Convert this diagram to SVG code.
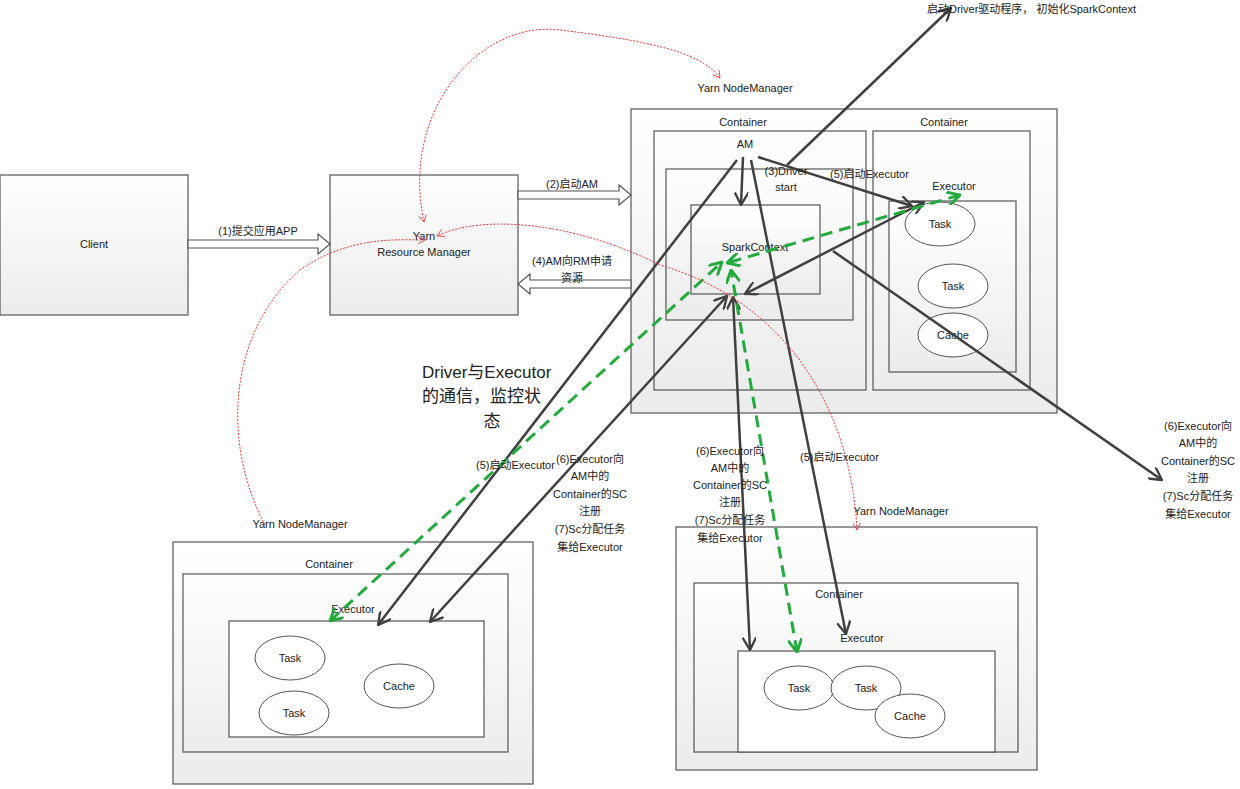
<svg xmlns="http://www.w3.org/2000/svg" width="1240" height="789" viewBox="0 0 1240 789">
<defs>
<linearGradient id="g" x1="0" y1="0" x2="0" y2="1"><stop offset="0" stop-color="#ffffff"/><stop offset="1" stop-color="#ececec"/></linearGradient>
<marker id="a" viewBox="0 0 12 12" refX="11" refY="6" markerWidth="14" markerHeight="14" orient="auto-start-reverse" markerUnits="userSpaceOnUse"><path d="M0,0 L11,6 L0,12" fill="none" stroke="#404040" stroke-width="2"/></marker>
<marker id="ga" viewBox="0 0 12 12" refX="11" refY="6" markerWidth="14" markerHeight="14" orient="auto-start-reverse" markerUnits="userSpaceOnUse"><path d="M0,0 L11,6 L0,12" fill="none" stroke="#22aa3c" stroke-width="2.5"/></marker>
<marker id="ra" viewBox="0 0 10 10" refX="9" refY="5" markerWidth="8" markerHeight="8" orient="auto-start-reverse" markerUnits="userSpaceOnUse"><path d="M0,0 L9,5 L0,10" fill="none" stroke="#ee3333" stroke-width="1"/></marker>
</defs>
<style>
.b{fill:url(#g);stroke:#555;stroke-width:1.2}
.w{fill:#fff;stroke:#555;stroke-width:1.2}
.e{fill:#fff;stroke:#555;stroke-width:1}
text{font-family:"Liberation Sans","Noto Sans CJK SC",sans-serif;font-size:11px;fill:#222}
.c{text-anchor:middle}
.k{stroke:#404040;stroke-width:2.5;fill:none;marker-end:url(#a)}
.kk{stroke:#404040;stroke-width:2.5;fill:none;marker-end:url(#a);marker-start:url(#a)}
.gd{stroke:#22aa3c;stroke-width:3;stroke-dasharray:12 7;fill:none;marker-end:url(#ga);marker-start:url(#ga)}
.rd{stroke:#ee3333;stroke-width:1;stroke-dasharray:2 1.5;fill:none}
.h{fill:#fff;stroke:#555;stroke-width:1.2}
</style>
<g id="client"><rect class="b" x="0" y="175" width="188" height="140"/><text class="c" x="94" y="248">Client</text></g>
<g id="rm"><rect class="b" x="330" y="175" width="188" height="140"/><text class="c" x="424" y="240">Yarn</text><text class="c" x="424" y="256">Resource Manager</text></g>
<g id="nm1"><rect class="b" x="631" y="109" width="426" height="304"/><text class="c" x="745" y="92">Yarn NodeManager</text>
<rect class="b" x="654" y="131" width="212" height="259"/><text class="c" x="743" y="126">Container</text>
<rect class="b" x="666" y="169" width="187" height="151"/>
<rect class="b" x="691" y="205" width="129" height="89"/><text class="c" x="755" y="251">SparkContext</text>
<text class="c" x="745" y="148">AM</text>
<rect class="b" x="873" y="131" width="157" height="259"/><text class="c" x="944" y="126">Container</text>
<text class="c" x="954" y="190">Executor</text>
<rect class="b" x="889" y="201" width="127" height="171"/>
<ellipse class="e" cx="940" cy="224" rx="35" ry="22"/><text class="c" x="940" y="228">Task</text>
<ellipse class="e" cx="953" cy="286" rx="35" ry="22"/><text class="c" x="953" y="290">Task</text>
<ellipse class="e" cx="953" cy="335" rx="35" ry="22"/><text class="c" x="953" y="339">Cache</text></g>
<g id="nm2"><rect class="b" x="173" y="542" width="360" height="242"/><text class="c" x="300" y="528">Yarn NodeManager</text>
<rect class="b" x="183" y="574" width="325" height="178"/><text class="c" x="329" y="568">Container</text>
<text class="c" x="353" y="613">Executor</text>
<rect class="w" x="229" y="621" width="255" height="116"/>
<ellipse class="e" cx="290" cy="658" rx="35" ry="22"/><text class="c" x="290" y="662">Task</text>
<ellipse class="e" cx="294" cy="713" rx="35" ry="22"/><text class="c" x="294" y="717">Task</text>
<ellipse class="e" cx="399" cy="686" rx="35" ry="22"/><text class="c" x="399" y="690">Cache</text></g>
<g id="nm3"><rect class="b" x="676" y="527" width="361" height="243"/><text class="c" x="901" y="515">Yarn NodeManager</text>
<rect class="b" x="694" y="583" width="324" height="169"/><text class="c" x="839" y="598">Container</text>
<text class="c" x="862" y="642">Executor</text>
<rect class="w" x="738" y="651" width="257" height="101"/>
<ellipse class="e" cx="799" cy="688" rx="35" ry="22"/><text class="c" x="799" y="692">Task</text>
<ellipse class="e" cx="866" cy="688" rx="35" ry="22"/><text class="c" x="866" y="692">Task</text>
<ellipse class="e" cx="910" cy="716" rx="35" ry="22"/><text class="c" x="910" y="720">Cache</text></g>
<g id="connectors">
<path class="h" d="M188,240 H318 V234 L330,244 L318,254 V248 H188 Z"/>
<path class="h" d="M518,191 H619 V185 L631,195 L619,205 V199 H518 Z"/>
<path class="h" d="M631,280 H530 V274 L518,284 L530,294 V288 H631 Z"/>
<path class="k" d="M787,165 L951,8"/>
<path class="k" d="M743,157 L741,205"/>
<path class="k" d="M758,157 L912,206"/>
<path class="k" d="M737,160 L378,625"/>
<path class="k" d="M751,160 L846,634"/>
<path class="k" d="M833,251 L1162,480"/>
<path class="kk" d="M924,202 L745,294"/>
<path class="kk" d="M430,622 L727,296"/>
<path class="kk" d="M750,650 L733,297"/>
<path class="gd" d="M960,195 L727,263"/>
<path class="gd" d="M330,621 L722,262"/>
<path class="gd" d="M797,652 L731,270"/>
<path class="rd" d="M424,222 C400,110 480,20 560,30 C640,40 700,50 720,78" marker-start="url(#ra)" marker-end="url(#ra)"/>
<path class="rd" d="M857,530 C850,400 780,300 660,265 C570,220 480,215 437,236" marker-start="url(#ra)" marker-end="url(#ra)"/>
<path class="rd" d="M265,525 C220,440 230,330 300,270 C350,235 400,240 425,240" marker-end="url(#ra)"/>
</g>
<g id="labels">
<text class="c" x="258" y="235">(1)提交应用APP</text>
<text class="c" x="572" y="188">(2)启动AM</text>
<text class="c" x="572" y="265">(4)AM向RM申请</text>
<text class="c" x="572" y="282">资源</text>
<text class="c" x="786" y="175">(3)Driver</text>
<text class="c" x="786" y="191">start</text>
<text x="830" y="178">(5)启动Executor</text>
<text x="927" y="13">启动Driver驱动程序， 初始化SparkContext</text>
<text x="422" y="378" style="font-size:17px">Driver与Executor</text>
<text x="422" y="402" style="font-size:17px">的通信，监控状</text>
<text class="c" x="492" y="427" style="font-size:17px">态</text>
<text x="476" y="469">(5)启动Executor</text>
<text class="c" x="590" y="463">(6)Executor向</text><text class="c" x="590" y="480">AM中的</text><text class="c" x="590" y="498">Container的SC</text><text class="c" x="590" y="515">注册</text><text class="c" x="590" y="533">(7)Sc分配任务</text><text class="c" x="590" y="551">集给Executor</text>
<text class="c" x="730" y="455">(6)Executor向</text><text class="c" x="730" y="472">AM中的</text><text class="c" x="730" y="489">Container的SC</text><text class="c" x="730" y="506">注册</text><text class="c" x="730" y="524">(7)Sc分配任务</text><text class="c" x="730" y="542">集给Executor</text>
<text x="800" y="461">(5)启动Executor</text>
<text class="c" x="1198" y="430">(6)Executor向</text><text class="c" x="1198" y="447">AM中的</text><text class="c" x="1198" y="465">Container的SC</text><text class="c" x="1198" y="482">注册</text><text class="c" x="1198" y="500">(7)Sc分配任务</text><text class="c" x="1198" y="518">集给Executor</text>
</g>
</svg>
